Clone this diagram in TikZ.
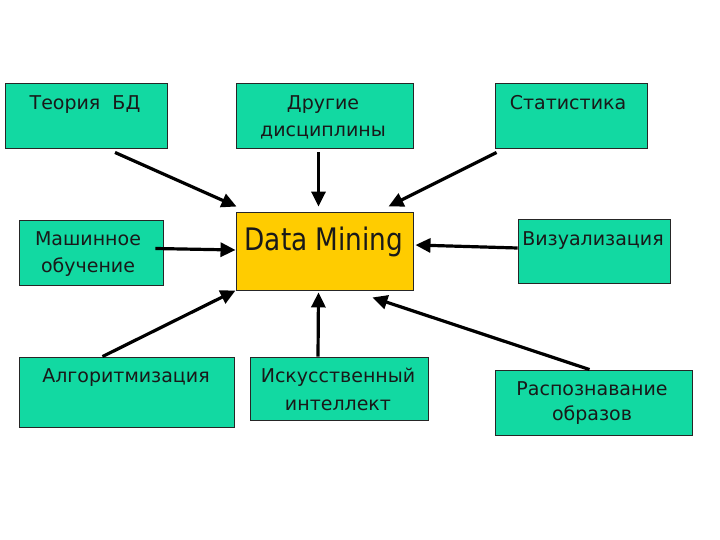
\documentclass[tikz,border=0pt]{standalone}
\usepackage{fontspec}
\setmainfont{DejaVu Sans}
\newfontfamily\dmfont[FakeStretch=0.85]{DejaVu Sans}
\usetikzlibrary{arrows.meta,calc}
\definecolor{teal1}{HTML}{12D9A2}
\definecolor{gold1}{HTML}{FFCC00}
\tikzset{
  box/.style={draw=black!85, line width=0.9pt, fill=teal1, inner sep=0pt},
  dmbox/.style={draw=black!85, line width=0.9pt, fill=gold1, inner sep=0pt},
  lbl/.style={anchor=base, inner sep=0pt, font=\fontsize{19}{19}\selectfont, text=black!90},
  arr/.style={line width=3.2pt, -{Triangle[length=15pt,width=14pt]}}
}
\newcommand{\mkbox}[6]{\node[#6, minimum width={#4-#2}, minimum height={#5-#3}] (#1) at ({(#2+#4)/2},{(#3+#5)/2}) {};}
\begin{document}
\begin{tikzpicture}[x=1pt,y=-1pt]
\useasboundingbox (0,0) rectangle (720,540);
\fill[white] (0,0) rectangle (720,540);
% boxes
\mkbox{teoria}{5}{83}{167}{148}{box}
\mkbox{drugie}{236}{83}{413}{148}{box}
\mkbox{stat}{495}{83}{647}{148}{box}
\mkbox{mash}{19}{220}{163}{285}{box}
\mkbox{dm}{236}{212}{413}{290}{dmbox}
\mkbox{viz}{518}{219}{670}{283}{box}
\mkbox{algo}{19}{357}{234}{427}{box}
\mkbox{ii}{250}{357}{428}{420}{box}
\mkbox{rasp}{495}{370}{692}{435}{box}
% labels
\node[lbl] (t1) at (85,110) {Теория\ \ БД};
\node[lbl] (t2a) at (323,110) {Другие};
\node[lbl] (t2b) at (323,137) {дисциплины};
\node[lbl] (t3) at (568,110) {Статистика};
\node[lbl] (t4a) at (88,245) {Машинное};
\node[lbl] (t4b) at (88,272) {обучение};
\node[lbl, font=\dmfont\fontsize{31}{31}\selectfont] (t5) at (324,250) {Data Mining};
\node[lbl] (t6) at (593,245) {Визуализация};
\node[lbl] (t7) at (126,382) {Алгоритмизация};
\node[lbl] (t8a) at (338,382) {Искусственный};
\node[lbl] (t8b) at (338,410) {интеллект};
\node[lbl] (t9a) at (592,395) {Распознавание};
\node[lbl] (t9b) at (592,420) {образов};
% arrows
\draw[arr] ($(teoria.south)+(29,4)$) -- ($(dm.north west)+(1,-5)$);
\draw[arr] ($(drugie.south)+(-6,4)$) -- ($(dm.north)+(-6,-5)$);
\draw[arr] ($(stat.south west)+(2,4)$) -- ($(dm.north east)+(-25,-5)$);
\draw[arr] ($(mash.east)+(-8,-4)$) -- ($(dm.west)+(0,-1)$);
\draw[arr] ($(viz.west)+(0,-3)$) -- ($(dm.east)+(2,-6)$);
\draw[arr] ($(algo.north)+(-24,0)$) -- ($(dm.south west)+(0,0)$);
\draw[arr] ($(ii.north)+(-21,0)$) -- ($(dm.south)+(-6,2)$);
\draw[arr] ($(rasp.north)+(-4,0)$) -- ($(dm.south east)+(-41,7)$);
\end{tikzpicture}
\end{document}
